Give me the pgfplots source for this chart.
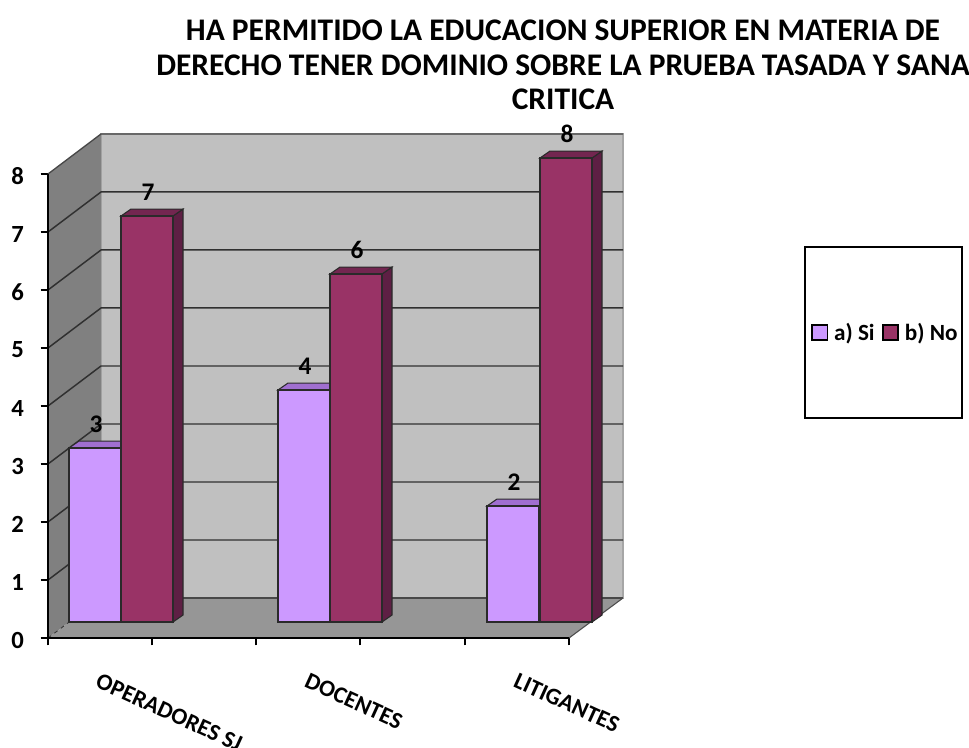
\documentclass[border=0pt]{standalone}
\usepackage{fontspec}
\setmainfont{Carlito}
\usepackage{pgfplots}
\pgfplotsset{compat=1.18}
\definecolor{pinkbar}{HTML}{CC99FF}
\definecolor{pinktop}{HTML}{A06FD0}
\definecolor{maroonbar}{HTML}{993366}
\definecolor{maroonside}{HTML}{5E1F44}
\definecolor{maroontop}{HTML}{732650}
\definecolor{edgec}{HTML}{2A2A2A}
\definecolor{wallback}{HTML}{C0C0C0}
\definecolor{wallleft}{HTML}{808080}
\definecolor{floorc}{HTML}{969696}
\definecolor{gridc}{HTML}{303030}
\begin{document}
\begin{tikzpicture}
\path[use as bounding box] (0,0) rectangle (726.75pt,560.25pt);
\begin{axis}[
  at={(36pt,81.75pt)}, anchor=south west,
  scale only axis, width=431.25pt, height=378pt,
  xmin=48, xmax=623, ymin=0, ymax=8.6897,
  clip=false,
  axis line style={draw=none},
  tick align=outside,
  xtick pos=bottom, ytick pos=left,
  xtick={48,152,256,360,465,569}, xticklabels={},
  ytick={0,1,2,3,4,5,6,7,8},
  major tick length=5.5pt,
  tick style={black, line width=1.1pt},
  /pgf/number format/assume math mode=true,
  yticklabel style={font=\fontsize{18.5}{20}\selectfont\bfseries, xshift=-9pt, yshift=-1.5pt},
  extra x ticks={95,304,513},
  extra x tick labels={OPERADORES SJ,DOCENTES,LITIGANTES},
  extra x tick style={major tick length=0pt, tick style={draw=none},
    xticklabel style={font=\fontsize{17.6}{20}\selectfont\bfseries, rotate=-24.5, anchor=north west, yshift=-18.2pt, xshift=11.2pt}},
  legend columns=2,
  legend cell align=left,
  legend style={at={(axis cs:804,6.755)}, anchor=north west, draw=black, line width=1.5pt,
    font=\fontsize{17.4}{20}\selectfont\bfseries, inner xsep=1pt, inner ysep=55pt,
    /tikz/every even column/.append style={column sep=3.5pt}},
  face/.style={line width=0.8pt, draw=edgec, yshift=12pt},
  bar3d/.style={ybar, bar width=39pt, bar shift=0pt, line width=0.8pt, draw=edgec, yshift=12pt,
    nodes near coords, point meta=y,
    every node near coord/.append style={font=\fontsize{19}{20}\selectfont\bfseries, black, anchor=center, yshift=18pt, xshift=0.8pt, text opacity=1}},
]
% walls and floor
\addplot[fill=wallback, draw=gray!70, line width=0.8pt, forget plot] coordinates {(101,0.69)(101,8.69)(623,8.69)(623,0.69)} --cycle;
\addplot[fill=wallleft, draw=none, forget plot] coordinates {(48,0)(48,8)(101,8.69)(101,0.69)} --cycle;
\addplot[fill=floorc, draw=none, forget plot] coordinates {(48,0)(569,0)(623,0.69)(101,0.69)} --cycle;
% gridlines
\addplot[gridc, line width=1.1pt, forget plot] coordinates {(48,1)(101,1.69)(623,1.69)};
\addplot[gridc, line width=1.1pt, forget plot] coordinates {(48,2)(101,2.69)(623,2.69)};
\addplot[gridc, line width=1.1pt, forget plot] coordinates {(48,3)(101,3.69)(623,3.69)};
\addplot[gridc, line width=1.1pt, forget plot] coordinates {(48,4)(101,4.69)(623,4.69)};
\addplot[gridc, line width=1.1pt, forget plot] coordinates {(48,5)(101,5.69)(623,5.69)};
\addplot[gridc, line width=1.1pt, forget plot] coordinates {(48,6)(101,6.69)(623,6.69)};
\addplot[gridc, line width=1.1pt, forget plot] coordinates {(48,7)(101,7.69)(623,7.69)};
\addplot[gridc!70!gray, line width=1pt, forget plot] coordinates {(48,8)(101,8.69)(623,8.69)};
\addplot[gridc!70!gray, line width=0.8pt, forget plot] coordinates {(101,0.69)(623,0.69)};
\addplot[gridc, line width=0.6pt, dashed, forget plot] coordinates {(48,0)(101,0.69)};
\addplot[gray!60!black, line width=0.8pt, forget plot] coordinates {(569,0)(623,0.69)};
% top faces of the a) Si bars
\addplot[face, fill=pinktop, forget plot] coordinates {(69,3)(121,3)(131,3.12)(79,3.12)} --cycle;
\addplot[face, fill=pinktop, forget plot] coordinates {(278,4)(330,4)(340,4.12)(288,4.12)} --cycle;
\addplot[face, fill=pinktop, forget plot] coordinates {(487,2)(539,2)(549,2.12)(497,2.12)} --cycle;
% front faces a) Si
\addplot[bar3d, fill=pinkbar, forget plot] coordinates {(95,3)(304,4)(513,2)};
% side and top faces of the b) No bars
\addplot[face, fill=maroonside, forget plot] coordinates {(173,0)(173,7)(183,7.12)(183,0.12)} --cycle;
\addplot[face, fill=maroontop, forget plot] coordinates {(121,7)(173,7)(183,7.12)(131,7.12)} --cycle;
\addplot[face, fill=maroonside, forget plot] coordinates {(382,0)(382,6)(392,6.12)(392,0.12)} --cycle;
\addplot[face, fill=maroontop, forget plot] coordinates {(330,6)(382,6)(392,6.12)(340,6.12)} --cycle;
\addplot[face, fill=maroonside, forget plot] coordinates {(592,0)(592,8)(602,8.12)(602,0.12)} --cycle;
\addplot[face, fill=maroontop, forget plot] coordinates {(540,8)(592,8)(602,8.12)(550,8.12)} --cycle;
% front faces b) No
\addplot[bar3d, fill=maroonbar, forget plot] coordinates {(147,7)(356,6)(566,8)};
% axis lines
\addplot[black, line width=1.1pt, forget plot] coordinates {(48,8)(48,0)(569,0)};
% legend
\addlegendimage{legend image code/.code={\path (-3.5pt,0pt) (13.8pt,0pt); \draw[fill=pinkbar, draw=black, line width=1.2pt] (0pt,-5.5pt) rectangle (11.5pt,6pt);}}
\addlegendentry{a) Si}
\addlegendimage{legend image code/.code={\path (13.8pt,0pt); \draw[fill=maroonbar, draw=black, line width=1.2pt] (0pt,-5.5pt) rectangle (11.5pt,6pt);}}
\addlegendentry{b) No}
% title
\node[font=\fontsize{23.6}{26}\selectfont\bfseries, align=center, anchor=center] at (axis cs:563,9.88)
  {HA PERMITIDO LA EDUCACION SUPERIOR EN MATERIA DE\\DERECHO TENER DOMINIO SOBRE LA PRUEBA TASADA Y SANA\\CRITICA};
\end{axis}
\end{tikzpicture}
\end{document}
